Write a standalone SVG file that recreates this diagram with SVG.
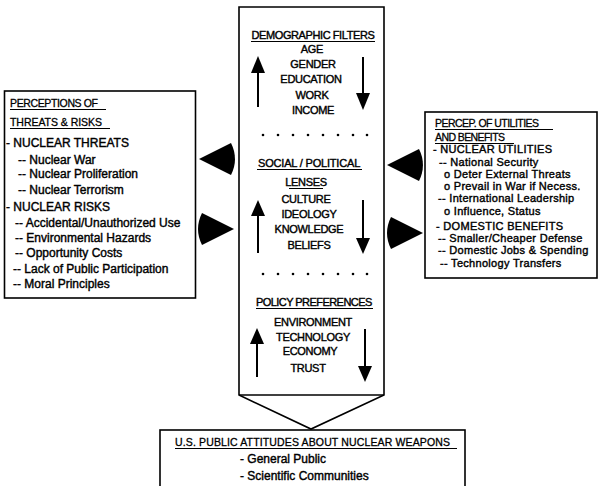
<svg xmlns="http://www.w3.org/2000/svg" width="611" height="486" viewBox="0 0 611 486">
<style>
.box{fill:#fff;stroke:#000;stroke-width:1.6}
.t{font-family:"Liberation Sans",Arial,sans-serif;font-size:12px;fill:#000;stroke:#000;stroke-width:0.4}
.r{font-family:"Liberation Sans",Arial,sans-serif;font-size:11px;letter-spacing:0.3px;fill:#000;stroke:#000;stroke-width:0.4}
.h{font-family:"Liberation Sans",Arial,sans-serif;font-size:10.5px;fill:#000;stroke:#000;stroke-width:0.3}
.c{font-family:"Liberation Sans",Arial,sans-serif;font-size:11px;fill:#000;stroke:#000;stroke-width:0.4;text-anchor:middle;letter-spacing:-0.3px}
.ul{stroke:#000;stroke-width:1}
.shaft{stroke:#000;stroke-width:2}
.wedge{fill:#000}
.dot{fill:#000}
</style>
<rect width="611" height="486" fill="#fff"/>

<g id="threats">
<rect class="box" x="4.5" y="91" width="191" height="207"/>
<text class="h" x="10" y="107" textLength="88">PERCEPTIONS OF</text>
<line class="ul" x1="10" y1="109.5" x2="106" y2="109.5"/>
<text class="h" x="10" y="126" textLength="92">THREATS &amp; RISKS</text>
<line class="ul" x1="10" y1="128.5" x2="110" y2="128.5"/>
<text class="t" x="6" y="147">- NUCLEAR THREATS</text>
<text class="t" x="18" y="164">-- Nuclear War</text>
<text class="t" x="18" y="178">-- Nuclear Proliferation</text>
<text class="t" x="18" y="194">-- Nuclear Terrorism</text>
<text class="t" x="6" y="211">- NUCLEAR RISKS</text>
<text class="t" x="15" y="227">-- Accidental/Unauthorized Use</text>
<text class="t" x="15" y="242">-- Environmental Hazards</text>
<text class="t" x="15" y="257">-- Opportunity Costs</text>
<text class="t" x="13" y="273">-- Lack of Public Participation</text>
<text class="t" x="13" y="288">-- Moral Principles</text>
</g>

<g id="utilities">
<rect class="box" x="425" y="112" width="172" height="166"/>
<text class="h" x="435" y="127" textLength="104">PERCEP. OF UTILITIES</text>
<line class="ul" x1="435" y1="129.5" x2="553" y2="129.5"/>
<text class="h" x="435" y="141" textLength="70">AND BENEFITS</text>
<line class="ul" x1="435" y1="143.5" x2="514" y2="143.5"/>
<text class="r" x="433" y="153">- NUCLEAR UTILITIES</text>
<text class="r" x="439" y="166">-- National Security</text>
<text class="r" x="444" y="178">o Deter External Threats</text>
<text class="r" x="444" y="190">o Prevail in War if Necess.</text>
<text class="r" x="438" y="202">-- International Leadership</text>
<text class="r" x="444" y="215">o Influence, Status</text>
<text class="r" x="436" y="230">- DOMESTIC BENEFITS</text>
<text class="r" x="438" y="242">-- Smaller/Cheaper Defense</text>
<text class="r" x="438" y="254">-- Domestic Jobs &amp; Spending</text>
<text class="r" x="440" y="267">-- Technology Transfers</text>
</g>

<g id="filters">
<path class="box" d="M239,7 H384 V395 L311,429 L239,395 Z"/>
<line x1="239" y1="395" x2="384" y2="395" stroke="#000" stroke-width="1.6"/>
<text class="c" x="313" y="39" textLength="123">DEMOGRAPHIC FILTERS</text>
<line class="ul" x1="251" y1="41.5" x2="375" y2="41.5"/>
<text class="c" x="312" y="53">AGE</text>
<text class="c" x="313" y="68">GENDER</text>
<text class="c" x="311" y="83">EDUCATION</text>
<text class="c" x="312" y="99">WORK</text>
<text class="c" x="313" y="114">INCOME</text>
<g class="dot">
<circle cx="263" cy="135" r="1.3"/><circle cx="278" cy="135" r="1.3"/><circle cx="293" cy="135" r="1.3"/><circle cx="308" cy="135" r="1.3"/><circle cx="323" cy="135" r="1.3"/><circle cx="338" cy="135" r="1.3"/><circle cx="353" cy="135" r="1.3"/><circle cx="367" cy="135" r="1.3"/>
</g>
<text class="c" x="309" y="167" textLength="102">SOCIAL / POLITICAL</text>
<line class="ul" x1="257" y1="169.5" x2="362" y2="169.5"/>
<text class="c" x="306" y="186">LENSES</text>
<line class="ul" x1="289" y1="188.5" x2="323" y2="188.5"/>
<text class="c" x="306" y="203">CULTURE</text>
<text class="c" x="309" y="218">IDEOLOGY</text>
<text class="c" x="309" y="233">KNOWLEDGE</text>
<text class="c" x="309" y="249">BELIEFS</text>
<g class="dot">
<circle cx="263" cy="274" r="1.3"/><circle cx="278" cy="274" r="1.3"/><circle cx="293" cy="274" r="1.3"/><circle cx="308" cy="274" r="1.3"/><circle cx="323" cy="274" r="1.3"/><circle cx="338" cy="274" r="1.3"/><circle cx="353" cy="274" r="1.3"/><circle cx="367" cy="274" r="1.3"/>
</g>
<text class="c" x="314" y="306" textLength="116">POLICY PREFERENCES</text>
<line class="ul" x1="256" y1="308.5" x2="373" y2="308.5"/>
<text class="c" x="313" y="326">ENVIRONMENT</text>
<text class="c" x="313" y="341">TECHNOLOGY</text>
<text class="c" x="310" y="355">ECONOMY</text>
<text class="c" x="308" y="372">TRUST</text>
</g>

<g id="attitudes">
<rect class="box" x="160" y="430" width="305" height="70"/>
<text class="h" x="175" y="446" textLength="275">U.S. PUBLIC ATTITUDES ABOUT NUCLEAR WEAPONS</text>
<line class="ul" x1="175" y1="448.5" x2="457" y2="448.5"/>
<text class="t" x="240" y="463">- General Public</text>
<text class="t" x="240" y="480">- Scientific Communities</text>
</g>

<g id="connectors">
<line class="shaft" x1="258" y1="70" x2="258" y2="107"/>
<polygon class="wedge" points="258,56 251,73 265,73"/>
<line class="shaft" x1="363" y1="57" x2="363" y2="95"/>
<polygon class="wedge" points="356,93 370,93 363,110"/>
<line class="shaft" x1="258" y1="213" x2="258" y2="253"/>
<polygon class="wedge" points="258,200 251,216 265,216"/>
<line class="shaft" x1="363" y1="200" x2="363" y2="240"/>
<polygon class="wedge" points="356,238 370,238 363,254"/>
<line class="shaft" x1="257" y1="340" x2="257" y2="377"/>
<polygon class="wedge" points="257,328 250,344 264,344"/>
<line class="shaft" x1="365" y1="329" x2="365" y2="368"/>
<polygon class="wedge" points="358,366 372,366 365,382"/>
<path class="wedge" d="M199,159 L231,143 A36,36 0 0 1 231,175 Z"/>
<path class="wedge" d="M234,229 L202,245 A36,36 0 0 1 202,213 Z"/>
<path class="wedge" d="M387,165 L419,149 A36,36 0 0 1 419,181 Z"/>
<path class="wedge" d="M423,233 L391,249 A36,36 0 0 1 391,217 Z"/>
</g>
</svg>
